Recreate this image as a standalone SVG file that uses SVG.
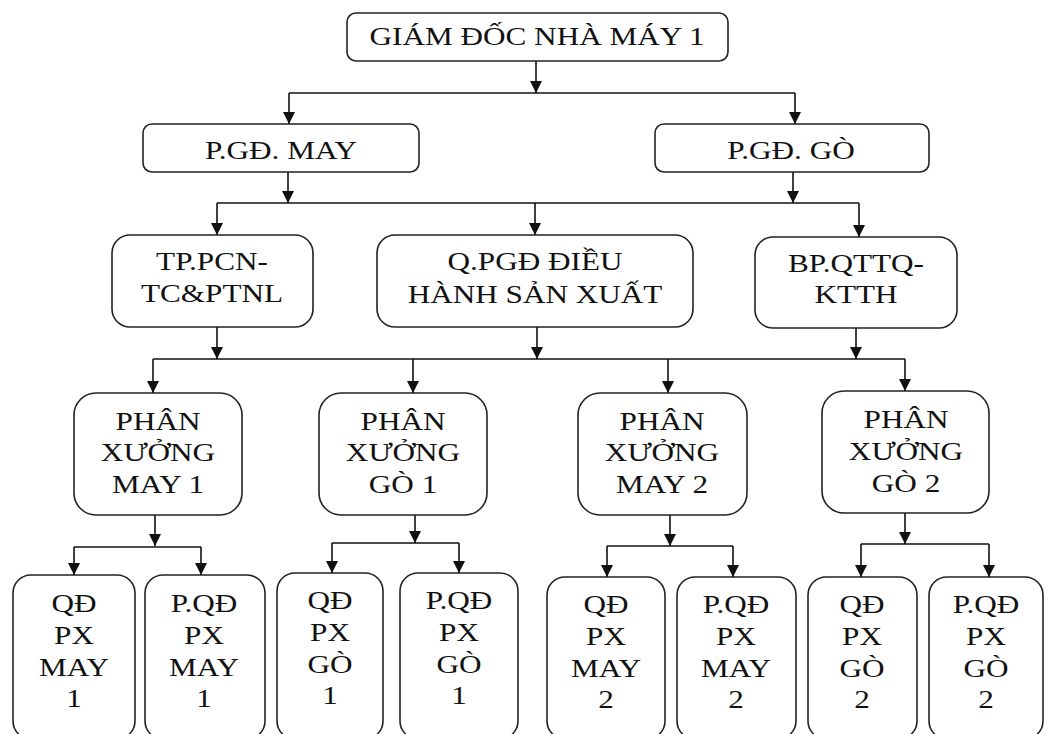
<svg xmlns="http://www.w3.org/2000/svg" width="1054" height="734" viewBox="0 0 1054 734">
  <defs>
    <marker id="arrow" markerUnits="userSpaceOnUse" markerWidth="13" markerHeight="12" viewBox="0 0 12 12" refX="12" refY="6" orient="auto">
      <path d="M0,0 L12,6 L0,12 z" fill="#111"/>
    </marker>
    <style>
      .box { fill: #fff; stroke: #222; stroke-width: 1.6; }
      .lbl { font-family: "Liberation Serif", "Times New Roman", serif; font-size: 26px; fill: #111; text-anchor: middle; }
      .wire { fill: none; stroke: #111; stroke-width: 1.6; }
      .arr { fill: none; stroke: #111; stroke-width: 1.6; marker-end: url(#arrow); }
    </style>
  </defs>
  <rect width="1054" height="734" fill="#fff"/>

  <!-- connectors -->
  <g id="connectors">
    <!-- director to deputies -->
    <path class="arr" d="M536,61 V93"/>
    <path class="wire" d="M289,93 H795"/>
    <path class="arr" d="M289,93 V124"/>
    <path class="arr" d="M795,93 V124"/>
    <!-- deputies to departments -->
    <path class="arr" d="M288,172 V203"/>
    <path class="arr" d="M793,172 V203"/>
    <path class="wire" d="M217,203 H859"/>
    <path class="arr" d="M217,203 V235"/>
    <path class="arr" d="M535,203 V235"/>
    <path class="arr" d="M859,203 V237"/>
    <!-- departments to workshops -->
    <path class="arr" d="M217,327 V359"/>
    <path class="arr" d="M537,327 V359"/>
    <path class="arr" d="M856,328 V359"/>
    <path class="wire" d="M153,359 H905"/>
    <path class="arr" d="M153,359 V393"/>
    <path class="arr" d="M413,359 V393"/>
    <path class="arr" d="M668,359 V393"/>
    <path class="arr" d="M905,359 V391"/>
    <!-- workshops to foremen -->
    <path class="arr" d="M155,515 V546"/>
    <path class="wire" d="M74,547 H201"/>
    <path class="arr" d="M74,547 V575"/>
    <path class="arr" d="M201,547 V575"/>

    <path class="arr" d="M415,515 V543"/>
    <path class="wire" d="M332,543 H459"/>
    <path class="arr" d="M332,543 V573"/>
    <path class="arr" d="M459,543 V573"/>

    <path class="arr" d="M670,515 V546"/>
    <path class="wire" d="M607,546 H733"/>
    <path class="arr" d="M607,546 V577"/>
    <path class="arr" d="M733,546 V577"/>

    <path class="arr" d="M905,513 V544"/>
    <path class="wire" d="M861,544 H989"/>
    <path class="arr" d="M861,544 V577"/>
    <path class="arr" d="M989,544 V577"/>
  </g>

  <!-- level 1 -->
  <g id="giam-doc">
    <rect class="box" x="347" y="13" width="381" height="48" rx="9"/>
    <text class="lbl" transform="translate(537,45) scale(1.2,1)" x="0" y="0">GIÁM ĐỐC NHÀ MÁY 1</text>
  </g>

  <!-- level 2 -->
  <g id="pgd-may">
    <rect class="box" x="143" y="124" width="276" height="48" rx="9"/>
    <text class="lbl" transform="translate(281,159) scale(1.2,1)" x="0" y="0">P.GĐ. MAY</text>
  </g>
  <g id="pgd-go">
    <rect class="box" x="655" y="124" width="274" height="48" rx="9"/>
    <text class="lbl" transform="translate(791,159) scale(1.2,1)" x="0" y="0">P.GĐ. GÒ</text>
  </g>

  <!-- level 3 -->
  <g id="tp-pcn">
    <rect class="box" x="112" y="235" width="201" height="92" rx="18"/>
    <text class="lbl" transform="translate(212,0) scale(1.2,1)"><tspan x="0" y="270">TP.PCN-</tspan><tspan x="0" y="302">TC&amp;PTNL</tspan></text>
  </g>
  <g id="q-pgd">
    <rect class="box" x="377" y="235" width="316" height="92" rx="18"/>
    <text class="lbl" transform="translate(535,0) scale(1.2,1)"><tspan x="0" y="270">Q.PGĐ ĐIỀU</tspan><tspan x="0" y="303">HÀNH SẢN XUẤT</tspan></text>
  </g>
  <g id="bp-qttq">
    <rect class="box" x="755" y="237" width="202" height="91" rx="18"/>
    <text class="lbl" transform="translate(856,0) scale(1.2,1)"><tspan x="0" y="272">BP.QTTQ-</tspan><tspan x="0" y="303">KTTH</tspan></text>
  </g>

  <!-- level 4: workshops -->
  <g id="px-may-1">
    <rect class="box" x="74" y="393" width="168" height="122" rx="22"/>
    <text class="lbl" transform="translate(158,0) scale(1.2,1)"><tspan x="0" y="430">PHÂN</tspan><tspan x="0" y="461">XƯỞNG</tspan><tspan x="0" y="493">MAY 1</tspan></text>
  </g>
  <g id="px-go-1">
    <rect class="box" x="319" y="393" width="168" height="122" rx="22"/>
    <text class="lbl" transform="translate(403,0) scale(1.2,1)"><tspan x="0" y="430">PHÂN</tspan><tspan x="0" y="461">XƯỞNG</tspan><tspan x="0" y="493">GÒ 1</tspan></text>
  </g>
  <g id="px-may-2">
    <rect class="box" x="578" y="393" width="169" height="122" rx="22"/>
    <text class="lbl" transform="translate(662,0) scale(1.2,1)"><tspan x="0" y="430">PHÂN</tspan><tspan x="0" y="461">XƯỞNG</tspan><tspan x="0" y="493">MAY 2</tspan></text>
  </g>
  <g id="px-go-2">
    <rect class="box" x="822" y="391" width="167" height="122" rx="22"/>
    <text class="lbl" transform="translate(906,0) scale(1.2,1)"><tspan x="0" y="428">PHÂN</tspan><tspan x="0" y="460">XƯỞNG</tspan><tspan x="0" y="492">GÒ 2</tspan></text>
  </g>

  <!-- level 5: foremen -->
  <g id="qd-px-may-1">
    <rect class="box" x="13" y="575" width="122" height="164" rx="18"/>
    <text class="lbl" transform="translate(74,0) scale(1.2,1)"><tspan x="0" y="612">QĐ</tspan><tspan x="0" y="644">PX</tspan><tspan x="0" y="676">MAY</tspan><tspan x="0" y="707">1</tspan></text>
  </g>
  <g id="pqd-px-may-1">
    <rect class="box" x="145" y="575" width="120" height="164" rx="18"/>
    <text class="lbl" transform="translate(204,0) scale(1.2,1)"><tspan x="0" y="612">P.QĐ</tspan><tspan x="0" y="644">PX</tspan><tspan x="0" y="676">MAY</tspan><tspan x="0" y="707">1</tspan></text>
  </g>
  <g id="qd-px-go-1">
    <rect class="box" x="277" y="573" width="106" height="166" rx="18"/>
    <text class="lbl" transform="translate(330,0) scale(1.2,1)"><tspan x="0" y="609">QĐ</tspan><tspan x="0" y="641">PX</tspan><tspan x="0" y="673">GÒ</tspan><tspan x="0" y="704">1</tspan></text>
  </g>
  <g id="pqd-px-go-1">
    <rect class="box" x="400" y="573" width="118" height="166" rx="18"/>
    <text class="lbl" transform="translate(459,0) scale(1.2,1)"><tspan x="0" y="609">P.QĐ</tspan><tspan x="0" y="641">PX</tspan><tspan x="0" y="673">GÒ</tspan><tspan x="0" y="704">1</tspan></text>
  </g>
  <g id="qd-px-may-2">
    <rect class="box" x="547" y="577" width="118" height="162" rx="18"/>
    <text class="lbl" transform="translate(606,0) scale(1.2,1)"><tspan x="0" y="613">QĐ</tspan><tspan x="0" y="645">PX</tspan><tspan x="0" y="677">MAY</tspan><tspan x="0" y="708">2</tspan></text>
  </g>
  <g id="pqd-px-may-2">
    <rect class="box" x="677" y="577" width="119" height="162" rx="18"/>
    <text class="lbl" transform="translate(736,0) scale(1.2,1)"><tspan x="0" y="613">P.QĐ</tspan><tspan x="0" y="645">PX</tspan><tspan x="0" y="677">MAY</tspan><tspan x="0" y="708">2</tspan></text>
  </g>
  <g id="qd-px-go-2">
    <rect class="box" x="808" y="577" width="109" height="162" rx="18"/>
    <text class="lbl" transform="translate(862,0) scale(1.2,1)"><tspan x="0" y="613">QĐ</tspan><tspan x="0" y="645">PX</tspan><tspan x="0" y="677">GÒ</tspan><tspan x="0" y="708">2</tspan></text>
  </g>
  <g id="pqd-px-go-2">
    <rect class="box" x="929" y="577" width="114" height="162" rx="18"/>
    <text class="lbl" transform="translate(986,0) scale(1.2,1)"><tspan x="0" y="613">P.QĐ</tspan><tspan x="0" y="645">PX</tspan><tspan x="0" y="677">GÒ</tspan><tspan x="0" y="708">2</tspan></text>
  </g>
</svg>
